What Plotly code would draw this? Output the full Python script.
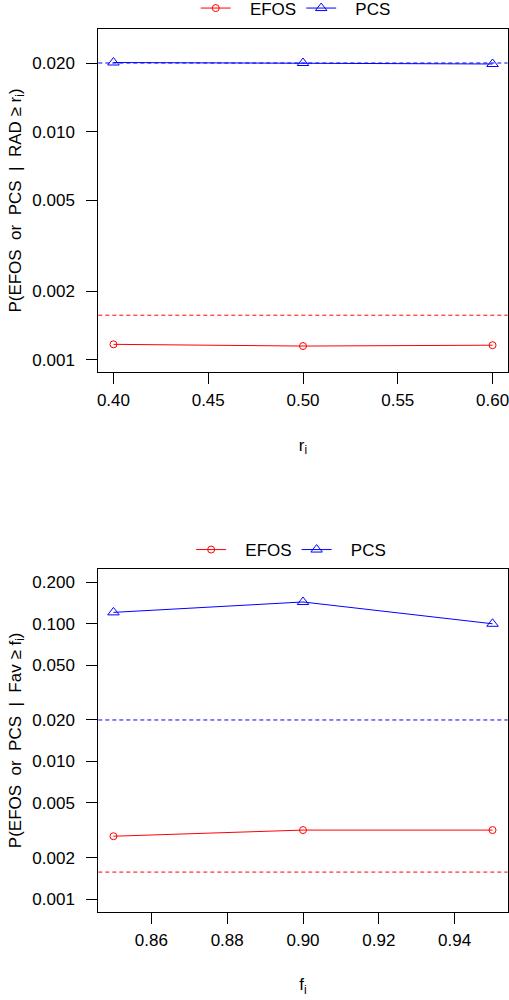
import plotly.graph_objects as go

# Top panel data
r_vals = [0.40, 0.50, 0.60]
efos_r = [0.00117, 0.00115, 0.00116]
pcs_r = [0.0201, 0.0200, 0.0198]

# Bottom panel data
f_vals = [0.85, 0.90, 0.95]
efos_f = [0.00286, 0.00317, 0.00317]
pcs_f = [0.121, 0.144, 0.100]

# Reference (dashed) levels
efos_ref = 0.00157
pcs_ref = 0.020

top_xticks = [0.40, 0.45, 0.50, 0.55, 0.60]
top_yticks = [0.001, 0.002, 0.005, 0.010, 0.020]
bot_xticks = [0.86, 0.88, 0.90, 0.92, 0.94]
bot_yticks = [0.001, 0.002, 0.005, 0.010, 0.020, 0.050, 0.100, 0.200]

RED = "#FF0000"
BLUE = "#0000FF"
FONT = "Liberation Sans, Arial, Helvetica, sans-serif"
FS = 17
NB = "\u00a0\u00a0\u00a0"

fig = go.Figure()

def add_series(x, y, name, color, symbol, size, xa, ya, legend):
    fig.add_trace(go.Scatter(
        x=x, y=y, name=NB + name, mode="lines+markers",
        line=dict(color=color, width=1),
        marker=dict(symbol=symbol, size=size, color=color, line=dict(color=color, width=1)),
        xaxis=xa, yaxis=ya, legend=legend,
    ))

add_series(r_vals, efos_r, "EFOS", RED, "circle-open", 7, "x", "y", "legend")
add_series(r_vals, pcs_r, "PCS", BLUE, "triangle-up-open", 10, "x", "y", "legend")
add_series(f_vals, efos_f, "EFOS", RED, "circle-open", 7, "x2", "y2", "legend2")
add_series(f_vals, pcs_f, "PCS", BLUE, "triangle-up-open", 10, "x2", "y2", "legend2")

for xref, yref in [("x domain", "y"), ("x2 domain", "y2")]:
    fig.add_shape(type="line", xref=xref, yref=yref, x0=0, x1=1, y0=efos_ref, y1=efos_ref,
                  line=dict(color=RED, width=1, dash="4px,3px"))
    fig.add_shape(type="line", xref=xref, yref=yref, x0=0, x1=1, y0=pcs_ref, y1=pcs_ref,
                  line=dict(color=BLUE, width=1, dash="4px,3px"))

axis_common = dict(
    showline=True, mirror=True, linecolor="black", linewidth=1,
    ticks="outside", ticklen=11, tickcolor="black", tickwidth=1,
    showgrid=False, zeroline=False,
    tickfont=dict(family=FONT, size=FS, color="black"),
    automargin=False, ticklabeloverflow="allow",
)
xcommon = dict(axis_common, ticklabelstandoff=2)
ycommon = dict(axis_common, ticklabelstandoff=8)

xdom = [98.3 / 509, 507.7 / 509]

fig.update_layout(
    width=509, height=1000,
    margin=dict(l=0, r=0, t=0, b=0, autoexpand=False),
    paper_bgcolor="white", plot_bgcolor="white",
    font=dict(family=FONT, size=FS, color="black"),
    showlegend=True,
    xaxis=dict(xcommon, domain=xdom, anchor="y", range=[0.392, 0.608],
               tickvals=top_xticks, ticktext=[f"{v:.2f}" for v in top_xticks],
               title=dict(text="r<sub>i</sub>", font=dict(family=FONT, size=FS), standoff=29)),
    yaxis=dict(ycommon, domain=[0.628, 0.971], anchor="x", type="log", range=[-3.053, -1.55],
               tickvals=top_yticks, ticktext=[f"{v:.3f}" for v in top_yticks],
               title=dict(text="P(EFOS  or  PCS  |  RAD ≥ r<sub>i</sub>)", font=dict(family=FONT, size=FS), standoff=6)),
    xaxis2=dict(xcommon, domain=xdom, anchor="y2", range=[0.846, 0.954],
                tickvals=bot_xticks, ticktext=[f"{v:.2f}" for v in bot_xticks],
                title=dict(text="f<sub>i</sub>", font=dict(family=FONT, size=FS), standoff=29)),
    yaxis2=dict(ycommon, domain=[0.0883, 0.431], anchor="x2", type="log", range=[-3.092, -0.602],
                tickvals=bot_yticks, ticktext=[f"{v:.3f}" for v in bot_yticks],
                title=dict(text="P(EFOS  or  PCS  |  Fav ≥ f<sub>i</sub>)", font=dict(family=FONT, size=FS), standoff=6)),
    legend=dict(orientation="h", x=0.581, xanchor="center", y=0.9915, yanchor="middle",
                font=dict(family=FONT, size=FS), bgcolor="rgba(0,0,0,0)", itemwidth=30),
    legend2=dict(orientation="h", x=0.572, xanchor="center", y=0.45, yanchor="middle",
                 font=dict(family=FONT, size=FS), bgcolor="rgba(0,0,0,0)", itemwidth=30),
)

fig.write_html("out.html", config={"displayModeBar": False},
               post_script="document.body.style.margin='0';")
